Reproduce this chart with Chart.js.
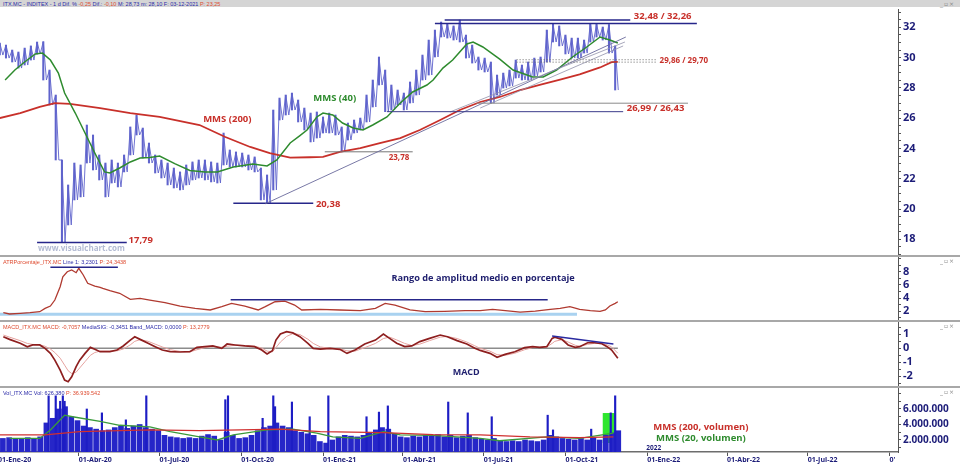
<!DOCTYPE html>
<html>
<head>
<meta charset="utf-8">
<title>ITX.MC - INDITEX</title>
<script src="https://cdn.jsdelivr.net/npm/chart.js@4.4.1/dist/chart.umd.min.js"></script>
<style>
  body { margin: 0; background: #fff; }
  #wrap { position: relative; width: 960px; height: 467px; overflow: hidden; background: #fff; }
  #wrap canvas { position: absolute; left: 0; }
  .topbar { position: absolute; left: 0; top: 0; width: 960px; height: 7px; background: #d5d5d5; }
  .info { position: absolute; left: 3px; font: 5.5px "Liberation Sans", Arial, sans-serif; white-space: nowrap; color: #2b2ba8; line-height: 6px; }
  .info .r { color: #de4b30; }
  .sep { position: absolute; left: 0; width: 960px; height: 2px; background: #a8a8a8; }
  .win { position: absolute; left: 940px; font: 6px "DejaVu Sans", sans-serif; color: #8a8a8a; line-height: 6px; letter-spacing: 1px; }
</style>
</head>
<body>
<div id="wrap">
  <canvas id="priceChart" width="960" height="247" style="top:9px"></canvas>
  <canvas id="atrChart" width="960" height="64" style="top:257px"></canvas>
  <canvas id="macdChart" width="960" height="65" style="top:322px"></canvas>
  <canvas id="volChart" width="960" height="79" style="top:388px"></canvas>

  <div class="topbar"></div>
  <div class="info" style="top:0.5px">ITX.MC - INDITEX - 1 d Dif. % <span class="r">-0,25</span> Dif.: <span class="r">-0,10</span> M: 28,73 m: 28,10 F: 03-12-2021 <span class="r">P: 23,25</span></div>
  <div class="win" style="top:1px">_▫×</div>

  <div class="sep" style="top:255px"></div>
  <div class="info" style="top:258.5px"><span class="r">ATRPorcentaje_ITX.MC</span> Line 1: 3,2301 <span class="r">P: 24,3438</span></div>
  <div class="win" style="top:258px">_▫×</div>

  <div class="sep" style="top:320px"></div>
  <div class="info" style="top:323.5px"><span class="r">MACD_ITX.MC MACD: -0,7057</span> MediaSIG: -0,3451 Band_MACD: 0,0000 <span class="r">P: 13,2779</span></div>
  <div class="win" style="top:323px">_▫×</div>

  <div class="sep" style="top:386px"></div>
  <div class="info" style="top:389.5px">Vol_ITX.MC Vol: 626.380 <span class="r">P: 36.939.542</span></div>
  <div class="win" style="top:389px">_▫×</div>
</div>

<script>
// x values are days counted from 01-Ene-2020; weekly bars sit at day 2 + 7*w
const weekHigh = [
  30.96, 30.83, 30.50, 30.37, 30.63, 30.77, 31.03, 31.05, 29.18, 27.53,
  23.24, 21.59, 23.04, 22.91, 25.55, 24.89, 23.57, 23.04, 23.24, 23.04,
  23.57, 25.42, 26.21, 25.35, 24.36, 23.57, 23.24, 23.04, 22.71, 22.45,
  22.91, 23.11, 23.24, 23.24, 23.11, 23.04, 25.02, 23.90, 23.77, 23.70,
  23.57, 23.44, 22.71, 22.25, 26.54, 27.33, 27.53, 27.66, 27.20, 26.67,
  26.34, 26.41, 26.08, 26.34, 26.21, 25.42, 25.68, 25.88, 26.01, 27.53,
  28.52, 30.04, 29.18, 28.19, 27.86, 27.66, 28.39, 29.18, 30.17, 31.16,
  31.82, 32.35, 32.22, 32.09, 32.48, 31.49, 30.83, 30.04, 29.97, 29.71,
  28.85, 28.98, 29.18, 29.84, 29.51, 29.71, 29.97, 30.04, 31.82, 32.20,
  32.09, 31.49, 31.29, 31.29, 31.16, 32.26, 32.20, 32.02, 32.18, 30.77
];
const weekLow = [
  30.17, 29.97, 29.71, 29.31, 29.51, 29.84, 30.24, 28.52, 26.87, 23.24,
  17.79, 18.95, 20.60, 20.80, 23.04, 22.58, 21.92, 20.80, 21.72, 21.46,
  22.45, 23.57, 24.89, 23.37, 23.04, 22.38, 22.05, 21.59, 21.39, 21.26,
  21.59, 21.92, 22.05, 21.92, 21.79, 21.72, 22.91, 22.78, 22.78, 22.78,
  22.58, 22.45, 20.60, 20.38, 21.26, 25.88, 26.21, 26.54, 25.75, 25.22,
  24.43, 24.69, 25.02, 25.02, 24.89, 23.78, 24.56, 25.02, 25.22, 25.75,
  26.74, 28.19, 26.43, 26.54, 26.87, 26.54, 27.00, 27.53, 28.52, 28.85,
  30.04, 31.36, 31.29, 31.16, 31.03, 29.97, 29.64, 29.18, 29.05, 26.99,
  27.53, 27.99, 28.13, 28.65, 28.52, 28.52, 28.79, 29.05, 29.71, 31.03,
  30.77, 30.24, 29.97, 29.97, 30.30, 31.03, 31.36, 31.16, 30.30, 27.86
];

const mms200Days = [2, 25, 47, 64, 81, 115, 149, 182, 227, 256, 284, 306, 329, 351, 366, 385, 408, 430, 453, 475, 498, 520, 543, 565, 588, 610, 633, 655, 678, 691, 698];
const mms200 = [26.01, 26.34, 26.74, 27.00, 26.94, 26.67, 26.34, 26.08, 25.55, 24.76, 24.10, 23.70, 23.40, 23.42, 23.44, 23.77, 24.03, 24.36, 24.69, 25.22, 25.88, 26.54, 27.07, 27.40, 27.86, 28.20, 28.55, 28.90, 29.35, 29.70, 29.72];

const mms40Days = [8, 19, 30, 42, 50, 59, 68, 75, 87, 98, 109, 120, 126, 137, 149, 160, 171, 182, 199, 216, 233, 247, 265, 287, 303, 314, 329, 340, 348, 359, 366, 377, 388, 400, 411, 422, 438, 453, 467, 483, 490, 501, 512, 528, 535, 546, 565, 580, 602, 614, 629, 647, 663, 678, 689, 698];
const mms40 = [28.52, 29.18, 29.71, 30.24, 30.30, 29.84, 28.98, 27.66, 26.34, 25.02, 23.70, 22.45, 22.38, 22.71, 23.11, 23.37, 23.40, 23.50, 23.00, 22.55, 22.45, 22.45, 22.78, 22.98, 22.85, 23.24, 24.36, 24.85, 25.22, 26.08, 26.34, 26.21, 25.68, 25.35, 25.22, 25.55, 26.08, 27.00, 27.73, 28.19, 28.52, 29.31, 29.84, 30.90, 31.03, 30.70, 29.90, 29.18, 28.72, 28.72, 29.18, 30.04, 30.70, 31.36, 31.16, 30.96];

const atrDays = [6, 13, 25, 36, 47, 53, 59, 64, 70, 73, 78, 83, 88, 91, 96, 101, 109, 115, 118, 126, 137, 149, 160, 171, 188, 205, 222, 239, 252, 263, 278, 293, 301, 312, 323, 334, 342, 363, 385, 408, 425, 436, 447, 464, 481, 503, 526, 543, 557, 577, 588, 605, 622, 633, 644, 655, 667, 678, 684, 689, 695, 698];
const atrPct = [1.79, 1.59, 1.70, 1.79, 1.94, 2.45, 2.80, 3.71, 5.73, 7.24, 8.00, 8.26, 7.85, 8.52, 7.50, 6.24, 5.83, 5.64, 5.48, 5.12, 4.73, 3.82, 3.97, 3.71, 3.30, 2.80, 2.45, 2.20, 2.70, 3.21, 2.80, 2.20, 2.70, 3.45, 3.55, 2.95, 2.20, 2.30, 2.20, 2.10, 2.45, 3.21, 2.95, 2.20, 1.94, 2.00, 2.10, 2.09, 2.30, 2.04, 1.89, 2.04, 2.30, 2.45, 2.70, 2.30, 2.09, 1.99, 2.20, 2.80, 3.21, 3.45];

const macdDays = [6, 13, 25, 33, 39, 47, 53, 59, 64, 70, 75, 79, 83, 88, 92, 98, 104, 109, 115, 126, 134, 141, 149, 154, 160, 169, 177, 185, 194, 205, 216, 224, 233, 242, 252, 258, 267, 278, 289, 297, 303, 309, 313, 318, 325, 332, 340, 349, 355, 363, 374, 385, 393, 402, 413, 425, 434, 441, 449, 458, 466, 475, 486, 498, 506, 517, 528, 537, 543, 554, 562, 571, 582, 593, 602, 610, 618, 624, 627, 635, 642, 650, 655, 664, 672, 680, 686, 691, 698];
const macdLine = [0.83, 0.64, 0.36, 0.11, 0.24, 0.24, 0.00, -0.36, -0.84, -1.55, -2.26, -2.38, -2.03, -1.31, -0.84, -0.36, 0.07, -0.07, -0.24, -0.24, -0.12, 0.17, 0.59, 0.83, 0.64, 0.36, 0.12, -0.12, -0.24, -0.26, -0.24, 0.07, 0.12, 0.17, 0.00, 0.31, 0.24, 0.17, 0.12, -0.12, -0.40, -0.17, 0.59, 1.02, 1.19, 1.10, 0.83, 0.36, 0.00, -0.05, 0.00, -0.07, -0.36, -0.12, 0.31, 0.59, 1.02, 0.71, 0.36, 0.12, 0.17, 0.48, 0.71, 0.95, 0.83, 0.55, 0.31, 0.00, -0.15, -0.36, -0.64, -0.43, -0.24, 0.05, 0.12, 0.07, 0.12, 0.71, 0.79, 0.64, 0.24, 0.07, 0.12, 0.40, 0.40, 0.33, 0.12, -0.12, -0.70];
const macdSignal = [0.95, 0.80, 0.55, 0.35, 0.28, 0.25, 0.15, -0.05, -0.30, -0.70, -1.20, -1.60, -1.80, -1.70, -1.40, -0.95, -0.50, -0.30, -0.20, -0.20, -0.18, -0.05, 0.25, 0.50, 0.62, 0.50, 0.30, 0.10, -0.10, -0.22, -0.25, -0.10, 0.05, 0.12, 0.08, 0.15, 0.22, 0.20, 0.15, 0.02, -0.20, -0.25, 0.05, 0.45, 0.85, 1.05, 0.98, 0.65, 0.35, 0.10, 0.00, -0.03, -0.18, -0.20, 0.05, 0.35, 0.70, 0.80, 0.60, 0.35, 0.20, 0.30, 0.55, 0.80, 0.85, 0.70, 0.45, 0.18, 0.00, -0.20, -0.45, -0.50, -0.35, -0.10, 0.05, 0.08, 0.10, 0.35, 0.50, 0.62, 0.45, 0.22, 0.15, 0.28, 0.36, 0.36, 0.25, 0.10, -0.35];

// volume in millions of shares
const weekVolume = [
  2.2, 2.3, 2.1, 2.2, 2.3, 2.2, 2.4, 4.2, 4.8, 6.0,
  6.3, 5.0, 4.5, 3.8, 3.6, 3.4, 3.2, 3.3, 3.6, 3.8,
  3.5, 3.8, 4.0, 3.6, 3.4, 3.2, 2.6, 2.4, 2.3, 2.2,
  2.3, 2.2, 2.5, 2.7, 2.5, 2.0, 3.0, 2.6, 2.2, 2.3,
  2.6, 3.2, 3.6, 3.8, 4.2, 3.8, 3.6, 3.2, 3.0, 2.8,
  2.6, 1.8, 1.6, 2.0, 2.4, 2.6, 2.5, 2.4, 2.6, 3.0,
  3.3, 3.6, 3.4, 2.8, 2.4, 2.3, 2.5, 2.4, 2.6, 2.5,
  2.7, 2.4, 2.6, 2.3, 2.5, 2.6, 2.3, 2.1, 2.0, 2.2,
  1.9, 1.8, 1.9, 1.8, 2.0, 1.9, 1.8, 2.0, 2.6, 2.4,
  2.2, 2.1, 2.0, 2.2, 2.0, 2.3, 2.0, 2.6, 2.9, 3.2
];
const spikeDays = [57, 65, 70, 73, 75, 100, 117, 144, 167, 256, 259, 298, 310, 312, 331, 351, 372, 415, 429, 439, 507, 529, 556, 619, 625, 668, 690, 695];
const spikeVolume = [7.7, 7.7, 7.0, 7.7, 7.0, 6.0, 5.5, 4.6, 7.7, 7.2, 7.7, 4.8, 7.7, 6.3, 6.9, 5.0, 7.7, 5.0, 5.6, 6.4, 6.9, 5.5, 5.0, 5.2, 3.3, 3.4, 5.5, 7.7];
const volMa200Days = [2, 53, 92, 171, 227, 318, 363, 434, 490, 543, 599, 655, 693];
const volMa200 = [2.65, 2.65, 3.07, 3.3, 3.2, 3.4, 3.07, 2.94, 2.7, 2.65, 2.4, 2.3, 2.4];
const volMa20Days = [13, 47, 59, 75, 84, 115, 137, 171, 194, 227, 247, 265, 303, 332, 359, 377, 408, 434, 453, 490, 543, 565, 618, 655, 693];
const volMa20 = [2.2, 2.2, 3.3, 5.2, 5.0, 4.4, 3.9, 3.7, 3.07, 2.4, 2.0, 2.65, 3.3, 3.4, 2.9, 2.4, 2.2, 3.07, 2.65, 2.6, 2.2, 1.9, 2.4, 2.2, 2.9];

const tickDays = [0, 91, 182, 274, 366, 456, 547, 639, 731, 821, 912, 1004];
const tickLabels = ['01-Ene-20', '01-Abr-20', '01-Jul-20', '01-Oct-20', '01-Ene-21', '01-Abr-21', '01-Jul-21', '01-Oct-21', '01-Ene-22', '01-Abr-22', '01-Jul-22', "0'"];

const X_MIN = 2.25, X_MAX = 1013.5;
const NAVY = '#1c1c78';
const RED = '#c8302a';
const GREEN = '#2e8b2e';
const BARS = '#5f63cc';
const LABEL = "bold 9.5px 'Open Sans', sans-serif";

function points(days, values) {
  return days.map((d, i) => ({ x: d, y: values[i] }));
}

function tickList(from, to, step) {
  const out = [];
  for (let v = from; v <= to + 1e-9; v += step) out.push(Math.round(v * 100) / 100);
  return out;
}

// annotations: lines, boxes and texts given in data units
const marksPlugin = {
  id: 'marks',
  beforeDatasetsDraw(chart, args, opts) { drawMarks(chart, opts.under); },
  afterDatasetsDraw(chart, args, opts) { drawMarks(chart, opts.over); }
};

function drawMarks(chart, items) {
  if (!items) return;
  const { ctx, scales: { x, y } } = chart;
  const px = v => x.getPixelForValue(v);
  const py = v => y.getPixelForValue(v);
  ctx.save();
  for (const m of items) {
    if (m.text) {
      ctx.font = m.font || LABEL;
      ctx.fillStyle = m.color;
      ctx.textAlign = 'left';
      ctx.textBaseline = 'middle';
      ctx.fillText(m.text, px(m.at[0]), py(m.at[1]));
    } else if (m.box) {
      const [x1, y1, x2, y2] = m.box;
      ctx.fillStyle = m.color;
      ctx.fillRect(px(x1), py(y2), px(x2) - px(x1), py(y1) - py(y2));
    } else {
      const [x1, y1, x2, y2] = m.line;
      ctx.strokeStyle = m.color;
      ctx.lineWidth = m.width || 1;
      ctx.setLineDash(m.dash || []);
      ctx.beginPath();
      ctx.moveTo(px(x1), py(y1));
      ctx.lineTo(px(x2), py(y2));
      ctx.stroke();
    }
  }
  ctx.restore();
}

Chart.register(marksPlugin);

function xScale(show) {
  return {
    type: 'linear',
    min: X_MIN,
    max: X_MAX,
    offset: false,
    display: show,
    afterBuildTicks: s => { s.ticks = tickDays.map(v => ({ value: v })); },
    afterFit: s => {
      if (show) s.height = 15;
      s.paddingLeft = 0;
      s.paddingRight = 0;
    },
    grid: { drawOnChartArea: false, offset: false, tickLength: 4, color: '#555' },
    border: { display: true, color: '#6d6d6d', width: 1.5 },
    ticks: {
      align: 'start', padding: 0, maxRotation: 0, autoSkip: false, color: NAVY,
      font: { family: "'Open Sans', sans-serif", weight: 'bold', size: 7 },
      callback: (v, i) => tickLabels[i]
    }
  };
}

function yScale(min, max, ticks, label, size) {
  return {
    type: 'linear',
    position: 'right',
    min, max,
    afterFit: s => { s.width = 62; s.paddingTop = 0; s.paddingBottom = 0; },
    afterBuildTicks: s => { s.ticks = ticks.map(v => ({ value: v })); },
    grid: { drawOnChartArea: false, tickLength: 3, color: '#555' },
    border: { display: true, color: '#555', width: 1 },
    ticks: {
      padding: 2, autoSkip: false, color: NAVY,
      font: { family: "'Open Sans', sans-serif", weight: 'bold', size: size || 11 },
      callback: label
    }
  };
}

function options(y, showX, marks) {
  return {
    responsive: false,
    animation: false,
    events: [],
    layout: { padding: 0 },
    elements: { point: { radius: 0 }, line: { tension: 0 } },
    plugins: { legend: { display: false }, tooltip: { enabled: false }, marks },
    scales: { x: xScale(showX), y }
  };
}

// weekly high-low bars plus a thin line joining them
const weekBars = weekHigh.map((h, w) => ({ x: 2 + 7 * w, y: [weekLow[w], h] }));
const pricePath = [];
weekHigh.forEach((h, w) => {
  const d = 2 + 7 * w;
  pricePath.push({ x: d, y: h }, { x: d + 3.5, y: weekLow[w] });
});

new Chart(document.getElementById('priceChart'), {
  type: 'bar',
  data: {
    datasets: [
      { type: 'line', data: points(mms40Days, mms40), borderColor: GREEN, borderWidth: 1.5, order: 1 },
      { type: 'line', data: points(mms200Days, mms200), borderColor: RED, borderWidth: 1.8, order: 2 },
      { type: 'line', data: pricePath, borderColor: BARS, borderWidth: 0.9, order: 3 },
      { data: weekBars, backgroundColor: BARS, barThickness: 1.4, grouped: false, order: 4 }
    ]
  },
  options: options(
    yScale(16.9, 33.21, tickList(17, 33, 0.5), v => (v % 2 === 0 ? v : '')),
    false,
    {
      over: [
        { line: [44, 17.79, 145, 17.79], color: '#26268a', width: 1.5 },
        { text: '17,79', at: [147, 17.96], color: RED },
        { line: [265, 20.38, 355, 20.38], color: '#26268a', width: 1.5 },
        { text: '20,38', at: [358, 20.32], color: RED },
        { line: [368, 23.78, 467, 23.78], color: '#777', width: 1 },
        { text: '23,78', at: [440, 23.37], color: RED, font: "bold 8px 'Open Sans', sans-serif" },
        { line: [301, 20.35, 707, 31.36], color: '#6a6a9c', width: 0.9 },
        { line: [509, 26.41, 706, 31.03], color: '#9090aa', width: 0.8 },
        { line: [543, 26.67, 704, 30.77], color: '#9090aa', width: 0.8 },
        { line: [438, 26.43, 704, 26.43], color: '#3a3a8a', width: 1 },
        { line: [539, 26.99, 777, 26.99], color: '#8a8a8a', width: 1 },
        { text: '26,99 / 26,43', at: [708, 26.67], color: RED },
        { line: [503, 32.48, 712, 32.48], color: '#26268a', width: 1.5 },
        { line: [492, 32.26, 787, 32.26], color: '#26268a', width: 1.5 },
        { text: '32,48 / 32,26', at: [716, 32.75], color: RED },
        { line: [584, 29.86, 742, 29.86], color: '#666', width: 1, dash: [1, 2] },
        { line: [584, 29.70, 742, 29.70], color: '#666', width: 1, dash: [1, 2] },
        { text: '29,86 / 29,70', at: [745, 29.8], color: RED, font: "bold 8px 'Open Sans', sans-serif" },
        { text: 'MMS (200)', at: [231, 25.94], color: RED },
        { text: 'MMS (40)', at: [355, 27.33], color: GREEN },
        { text: 'www.visualchart.com', at: [45, 17.37], color: '#b3bbd3', font: "bold 8px 'Open Sans', sans-serif" }
      ]
    }
  )
});

new Chart(document.getElementById('atrChart'), {
  type: 'line',
  data: {
    datasets: [
      { data: points(atrDays, atrPct), borderColor: '#b03a30', borderWidth: 1.3 }
    ]
  },
  options: options(
    yScale(0.53, 10.23, tickList(1, 10, 1), v => (v % 2 === 0 && v <= 8 ? v : '')),
    false,
    {
      under: [
        { line: [2, 1.55, 652, 1.55], color: '#a9d2f0', width: 3 }
      ],
      over: [
        { line: [59, 8.67, 135, 8.67], color: '#26268a', width: 1.5 },
        { line: [262, 3.75, 619, 3.75], color: '#26268a', width: 1.5 },
        { text: 'Rango de amplitud medio en porcentaje', at: [443, 7.05], color: '#1f1f6e', font: "bold 9.2px 'Open Sans', sans-serif" }
      ]
    }
  )
});

new Chart(document.getElementById('macdChart'), {
  type: 'line',
  data: {
    datasets: [
      { data: points(macdDays, macdLine), borderColor: '#8e1f1f', borderWidth: 1.7, order: 1 },
      { data: points(macdDays, macdSignal), borderColor: '#e6a3a0', borderWidth: 1, order: 2 }
    ]
  },
  options: options(
    yScale(-2.76, 1.88, tickList(-2.5, 1.5, 0.5), v => (Number.isInteger(v) ? v : '')),
    false,
    {
      under: [
        { line: [2, 0, 698, 0], color: '#8c8c8c', width: 1.5 }
      ],
      over: [
        { line: [624, 0.88, 693, 0.31], color: '#2a2aa0', width: 1.3 },
        { text: 'MACD', at: [512, -1.69], color: '#1f1f6e', font: "bold 9px 'Open Sans', sans-serif" }
      ]
    }
  )
});

new Chart(document.getElementById('volChart'), {
  type: 'bar',
  data: {
    datasets: [
      { type: 'line', data: points(volMa200Days, volMa200), borderColor: '#d03030', borderWidth: 1.3, order: 0 },
      { type: 'line', data: points(volMa20Days, volMa20), borderColor: '#3a9a3a', borderWidth: 1.3, order: 1 },
      { data: points(spikeDays, spikeVolume), backgroundColor: '#1d1dc4', barThickness: 1.5, grouped: false, order: 3 },
      { data: weekVolume.map((v, w) => ({ x: 5.5 + 7 * w, y: v })), backgroundColor: '#2626c8', barThickness: 5, grouped: false, order: 4 }
    ]
  },
  options: options(
    yScale(0.45, 8.71, tickList(1, 8, 1), v => ([2, 4, 6].includes(v) ? v + '.000.000' : ''), 10),
    true,
    {
      under: [
        { box: [681, 1.61, 696, 5.48], color: '#2ee62e' }
      ],
      over: [
        { text: 'MMS (200, volumen)', at: [738, 3.68], color: RED },
        { text: 'MMS (20, volumen)', at: [741, 2.26], color: GREEN },
        { text: '2022', at: [730, 0.97], color: NAVY, font: "bold 6.5px 'Open Sans', sans-serif" }
      ]
    }
  )
});
</script>
</body>
</html>
